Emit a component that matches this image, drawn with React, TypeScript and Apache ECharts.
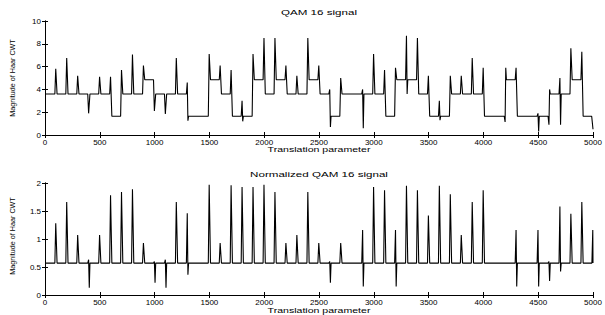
import React, { useEffect, useRef } from "react";
import * as echarts from "echarts";

// Segment width (translation units) and levels of the top signal, one per segment 0-100, 100-200, ...
const segmentWidth = 100;
const topLevels = [
  3.6, 3.6, 3.6, 3.6, 3.6, 3.6, 1.65, 3.6, 3.6, 4.85,
  3.6, 3.6, 3.6, 1.65, 1.65, 4.85, 3.6, 1.65, 1.65, 4.85,
  3.6, 4.85, 3.6, 3.6, 4.85, 3.6, 1.65, 3.6, 3.6, 3.6,
  3.6, 1.65, 4.85, 4.85, 3.6, 1.65, 1.65, 3.6, 3.6, 3.6,
  1.65, 1.65, 4.85, 1.65, 1.65, 1.65, 3.6, 3.6, 4.85, 1.65,
];
// First and second extreme at each boundary 100..4900 (top signal)
const topFirst = [
  5.8, 6.75, 5.2, 1.9, 5.1, 5.1, 5.7, 7.05, 6.1, 2.1,
  1.85, 6.75, 4.6, null, 7.1, 6.1, 5.7, 3.0, 7.1, 8.5,
  8.5, 6.1, 5.2, 8.5, 6.1, 4.0, 5.0, null, 4.0, 7.1,
  5.7, 5.9, 8.7, 8.5, 5.2, 3.0, 5.2, 5.2, 6.75, 5.9,
  null, 1.15, 5.9, null, 1.9, 0.9, 5.0, 7.6, 7.3,
];
const topSecond = [
  null, null, null, null, null, null, null, null, null, null,
  null, null, 1.25, null, null, null, null, 1.2, null, null,
  null, null, null, null, null, 0.7, null, null, 0.6, null,
  null, null, 3.6, null, null, 1.3, null, null, null, null,
  null, 5.9, null, null, 0.3, 4.0, 0.9, null, null,
];
const topEnd = 0.5;

// Normalized signal: constant baseline with extremes at each boundary 100..5000
const bottomBase = 0.57;
const bottomFirst = [
  1.28, 1.66, 1.07, 0.63, 1.07, 1.78, 1.84, 1.89, 0.93, 0.6,
  0.63, 1.66, 1.46, null, 1.97, 0.93, 1.96, 1.93, 1.93, 1.97,
  1.84, 0.93, 1.07, 1.84, 0.93, 0.6, 0.93, null, 1.16, 1.93,
  1.87, 1.16, 1.95, 1.87, 1.42, 1.95, 1.8, 1.07, 1.66, 1.87,
  null, null, 1.16, null, 1.16, 0.6, 1.58, 1.45, 1.66, 1.16,
];
const bottomSecond = [
  null, null, null, 0.13, null, null, null, null, null, 0.22,
  0.13, null, 0.36, null, null, null, null, null, null, null,
  null, null, null, null, null, 0.22, null, null, 0.15, null,
  null, 0.15, null, null, null, null, null, null, null, null,
  null, null, 0.15, null, 0.15, 0.25, 0.42, null, null, null,
];

const xTicks = { min: 0, max: 5000, interval: 500 };
const topY = { min: 0, max: 10, interval: 2 };
const bottomY = { min: 0, max: 2, interval: 0.5 };

function buildTop(): number[][] {
  const pts: number[][] = [[0, topLevels[0]]];
  for (let k = 1; k < topLevels.length; k++) {
    const b = k * segmentWidth;
    const a = topFirst[k - 1];
    const c = topSecond[k - 1];
    pts.push([b - 10, topLevels[k - 1]]);
    if (a != null) pts.push([b - 2, a]);
    if (c != null) pts.push([b + 4, c]);
    pts.push([b + 10, topLevels[k]]);
  }
  const last = topLevels.length * segmentWidth;
  pts.push([last - 12, topLevels[topLevels.length - 1]]);
  pts.push([last, topEnd]);
  return pts;
}

function buildBottom(): number[][] {
  const pts: number[][] = [[0, bottomBase]];
  for (let k = 1; k <= bottomFirst.length; k++) {
    const b = k * segmentWidth;
    const a = bottomFirst[k - 1];
    const c = bottomSecond[k - 1];
    if (a == null && c == null) continue;
    pts.push([b - 10, bottomBase]);
    if (a != null) pts.push([b - 2, a]);
    if (c != null) pts.push([b + 4, c]);
    if (b < 5000) pts.push([b + 10, bottomBase]);
  }
  if (pts[pts.length - 1][0] < 5000) pts.push([5000, bottomBase]);
  return pts;
}

const FONT = '"Liberation Sans", Arial, sans-serif';

function xAxisDef(grid: number, pos: "top" | "bottom") {
  return {
    gridIndex: grid,
    type: "value",
    position: pos,
    ...xTicks,
    axisLine: { show: true, lineStyle: { color: "#000", width: 1 } },
    axisTick: { show: true, inside: true, length: 3, lineStyle: { color: "#000" } },
    axisLabel: {
      show: pos === "bottom",
      fontSize: 8,
      color: "#000",
      margin: 3,
      fontFamily: FONT,
      formatter: (v: number) => String(v),
    },
    splitLine: { show: false },
  };
}

function yAxisDef(grid: number, pos: "left" | "right", range: any) {
  return {
    gridIndex: grid,
    type: "value",
    position: pos,
    ...range,
    axisLine: { show: true, lineStyle: { color: "#000", width: 1 } },
    axisTick: { show: true, inside: true, length: 3, lineStyle: { color: "#000" } },
    axisLabel: {
      show: pos === "left",
      fontSize: 8,
      color: "#000",
      margin: 4,
      fontFamily: FONT,
      formatter: (v: number) => String(v),
    },
    splitLine: { show: false },
  };
}

function txt(text: string, x: number, y: number, size: number, scaleX: number, rotation = 0) {
  return {
    type: "text",
    x,
    y,
    rotation,
    scaleX,
    style: {
      text,
      font: `${size}px ${FONT}`,
      fill: "#000",
      textAlign: "center",
      textVerticalAlign: "middle",
    },
  };
}

export default function App() {
  const ref = useRef<HTMLDivElement>(null);
  useEffect(() => {
    document.body.style.margin = "0";
    const chart = echarts.init(ref.current!, null, { renderer: "svg" });
    chart.setOption({
      animation: false,
      backgroundColor: "#fff",
      grid: [
        { left: 45, right: 12, top: 21, height: 114 },
        { left: 45, right: 12, top: 183, height: 112 },
      ],
      xAxis: [
        xAxisDef(0, "bottom"),
        xAxisDef(0, "top"),
        xAxisDef(1, "bottom"),
        xAxisDef(1, "top"),
      ],
      yAxis: [
        yAxisDef(0, "left", topY),
        yAxisDef(0, "right", topY),
        yAxisDef(1, "left", bottomY),
        yAxisDef(1, "right", bottomY),
      ],
      series: [
        {
          type: "line",
          xAxisIndex: 0,
          yAxisIndex: 0,
          data: buildTop(),
          symbol: "none",
          lineStyle: { color: "#000", width: 1.1 },
        },
        {
          type: "line",
          xAxisIndex: 2,
          yAxisIndex: 2,
          data: buildBottom(),
          symbol: "none",
          lineStyle: { color: "#000", width: 1.1 },
        },
      ],
      graphic: [
        txt("QAM 16 signal", 319, 12, 8, 1.45),
        txt("Translation parameter", 319, 149, 8, 1.32),
        txt("Normalized QAM 16 signal", 319, 174, 8, 1.45),
        txt("Translation parameter", 319, 310, 8, 1.32),
        txt("Magnitude of Haar CWT", 12, 78, 7.2, 1, Math.PI / 2),
        txt("Magnitude of Haar CWT", 12, 236, 7.2, 1, Math.PI / 2),
      ],
    });
    return () => chart.dispose();
  }, []);
  return (
    <div
      ref={ref}
      style={{ width: 605, height: 315, position: "absolute", left: 0, top: 0 }}
    />
  );
}
